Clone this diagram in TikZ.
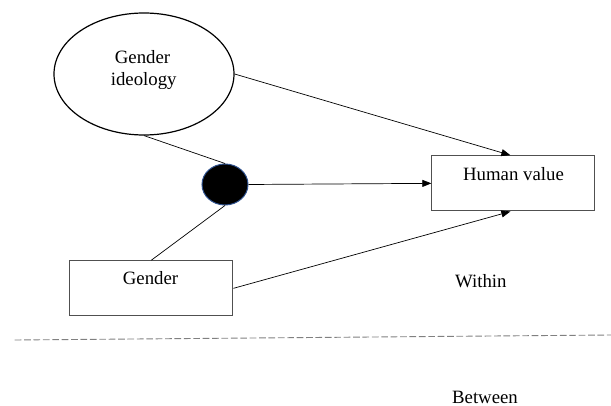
\documentclass[tikz,border=0pt]{standalone}
\usepackage{fontspec}
\setmainfont{Liberation Serif}
\usetikzlibrary{shapes.geometric,arrows.meta}
\definecolor{dotedge}{RGB}{47,82,143}
\definecolor{boxedge}{RGB}{80,80,80}
\begin{document}
\begin{tikzpicture}[x=1pt,y=-1pt,
  every node/.style={font=\fontsize{18.8}{23}\selectfont},
  lbl/.style={anchor=base,inner sep=0pt},
  varbox/.style={draw=boxedge,line width=1pt,minimum width=163pt,minimum height=55.3pt,inner sep=0pt},
  conn/.style={line width=0.7pt},
  arr/.style={conn,-{Triangle[length=9pt,width=7pt]}},
  sep/.style={draw=gray,line width=0.9pt,dash pattern=on 6.7pt off 2.7pt}]
\useasboundingbox (0,0) rectangle (611,406);
\node[ellipse,draw,line width=1.2pt,minimum width=180pt,minimum height=122pt,inner sep=0pt] (ell) at (144,74) {};
\node[lbl] (gi1) at (142.5,64) {Gender};
\node[lbl] (gi2) at (143.7,86) {ideology};
\node[ellipse,draw=dotedge,fill=black,line width=1pt,minimum width=46pt,minimum height=41pt,inner sep=0pt] (dot) at (225,184.5) {};
\node[varbox] (hv) at (513.35,183.35) {};
\node[lbl] (hvt) at (513.5,181) {Human value};
\node[varbox] (gb) at (151.35,288.35) {};
\node[lbl] (gbt) at (150.5,285) {Gender};
\node[lbl] (within) at (480.8,287.7) {Within};
\node[lbl] (between) at (485,403) {Between};
\coordinate (sepL) at (14.7,340);
\coordinate (sepR) at (611,335);
\draw[conn] (ell.south) -- (dot.north);
\draw[conn] (gb.north) -- (dot.south);
\draw[arr] (ell.east) -- ([xshift=-3pt]hv.north);
\draw[arr] (dot.east) -- (hv.west);
\draw[arr] (gb.east) -- ([xshift=-3pt]hv.south);
\draw[sep] (sepL) -- (sepR);
\end{tikzpicture}
\end{document}
